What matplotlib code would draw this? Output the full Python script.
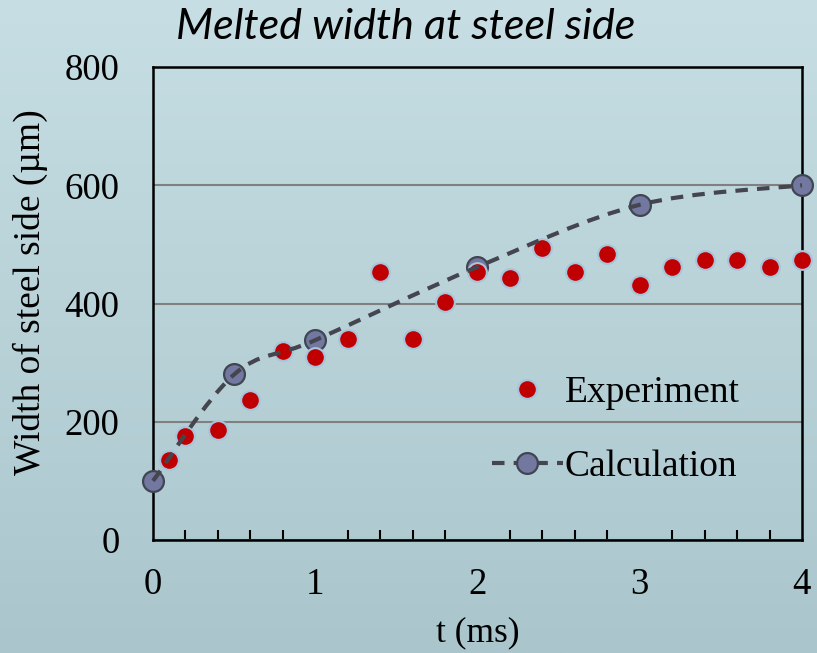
import numpy as np
import matplotlib.pyplot as plt
from matplotlib.path import Path
from matplotlib.patches import PathPatch
from matplotlib.lines import Line2D
from matplotlib.ticker import MultipleLocator

# Data
exp_t = [0.1, 0.2, 0.4, 0.6, 0.8, 1.0, 1.2, 1.4, 1.6, 1.8, 2.0,
         2.2, 2.4, 2.6, 2.8, 3.0, 3.2, 3.4, 3.6, 3.8, 4.0]
exp_w = [135, 176, 186, 237, 320, 310, 340, 453, 340, 402, 453,
         443, 494, 453, 484, 431, 462, 473, 473, 462, 473]

calc_t = [0, 0.5, 1, 2, 3, 4]
calc_w = [100, 280, 338, 462, 567, 600]

red = '#c00000'
calc_fill = '#7378a0'
calc_edge = '#404552'
line_col = '#45454f'

fig = plt.figure(figsize=(8.17, 6.53), dpi=100)

# gradient background
bg = fig.add_axes([0, 0, 1, 1], zorder=-10)
top = np.array([0xc6, 0xde, 0xe4]) / 255
bot = np.array([0xaa, 0xc6, 0xcc]) / 255
g = np.linspace(0, 1, 256)[:, None, None]
img = top * (1 - g) + bot * g
bg.imshow(np.repeat(img, 2, axis=1), aspect='auto', extent=[0, 1, 0, 1])
bg.axis('off')

ax = fig.add_axes([0.1873, 0.1730, 0.7943, 0.7244])
ax.patch.set_alpha(0)
ax.set_xlim(0, 4)
ax.set_ylim(0, 800)
ax.xaxis.set_major_locator(MultipleLocator(1))
ax.xaxis.set_minor_locator(MultipleLocator(0.2))
ax.yaxis.set_major_locator(MultipleLocator(200))
ax.grid(axis='y', color='#808080', linewidth=1.5)
ax.set_axisbelow(True)
for s in ax.spines.values():
    s.set_linewidth(1.8)
    s.set_color('black')
ax.tick_params(axis='x', which='both', direction='in', length=0, pad=20)
ax.tick_params(axis='x', which='minor', length=7, width=1.5)
ax.tick_params(axis='y', length=0, pad=24)
for lab in ax.get_xticklabels() + ax.get_yticklabels():
    lab.set_fontfamily('Liberation Serif')
    lab.set_fontsize(26.5)

# smoothed calculation line (Bezier through the points, like Excel)
pts = ax.transData.transform(np.column_stack([calc_t, calc_w]))
verts = [pts[0]]
codes = [Path.MOVETO]
n = len(pts)
for i in range(n - 1):
    p0 = pts[i - 1] if i > 0 else pts[i]
    p1 = pts[i]
    p2 = pts[i + 1]
    p3 = pts[i + 2] if i + 2 < n else pts[i + 1]
    c1 = p1 + (p2 - p0) / 6
    c2 = p2 - (p3 - p1) / 6
    verts += [c1, c2, p2]
    codes += [Path.CURVE4] * 3
curve = PathPatch(Path(verts, codes), transform=None, fill=False,
                  edgecolor=line_col, linewidth=3, linestyle=(0, (3, 2.2)),
                  zorder=3)
fig.patches.append(curve)
curve.set_figure(fig)

ax.plot(calc_t, calc_w, 'o', ms=15, mfc=calc_fill, mec=calc_edge, mew=1.6,
        zorder=4, clip_on=False)
ax.plot(exp_t, exp_w, 'o', ms=13.5, mfc=red, mec='#a8c4dc', mew=1.5,
        zorder=5, clip_on=False)

h1 = Line2D([], [], ls='none', marker='o', ms=13.5, mfc=red, mec='#a8c4dc', mew=1.5)
h2 = Line2D([], [], color=line_col, lw=3, ls=(0, (3, 2.2)), marker='o', ms=15,
            mfc=calc_fill, mec=calc_edge, mew=1.6)
ax.legend([h1, h2], ['Experiment', 'Calculation'], frameon=False,
          prop={'family': 'Liberation Serif', 'size': 27},
          loc='upper left', bbox_to_anchor=(0.47, 0.419), handlelength=1.9,
          handletextpad=0.05, labelspacing=1.06)

fig.text(406 / 817, 1 - 27 / 653, 'Melted width at steel side',
         family='Lato', style='italic', fontsize=31, ha='center', va='center')
fig.text(30 / 817, 1 - 292 / 653, 'Width of steel side (µm)',
         family='Liberation Serif', fontsize=27, rotation=90,
         ha='center', va='center')
fig.text(478 / 817, 1 - 633 / 653, 't (ms)', family='Liberation Serif',
         fontsize=25.5, ha='center', va='center')

fig.savefig('out.png', dpi=100)
